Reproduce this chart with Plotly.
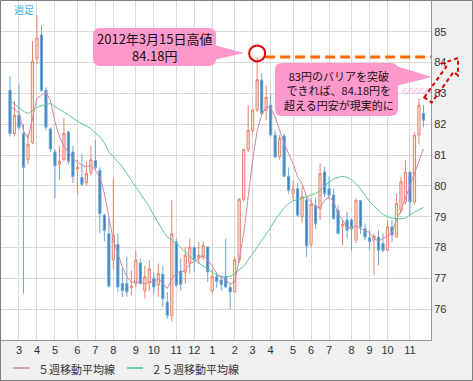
import plotly.graph_objects as go
import pandas as pd

# ---------------- data (USD/JPY weekly) ----------------
start_week = "2011-02-21"
opens = [83.10, 81.70, 82.30, 81.70, 80.85, 81.40, 84.15, 84.90, 83.10, 81.85,
         81.10, 80.70, 80.85, 81.75, 81.10, 80.55, 80.27, 80.10, 80.42, 80.82,
         80.50, 79.05, 78.45, 77.60, 78.10, 76.83, 76.83, 76.70, 76.83, 77.50,
         76.60, 76.85, 77.00, 76.78, 77.13, 76.23, 75.80, 78.18, 77.24, 77.20,
         77.50, 78.00, 77.65, 77.70, 78.02, 76.60, 77.05, 76.95, 77.05, 76.70,
         76.56, 77.60, 79.57, 81.18, 81.80, 82.46, 83.43, 82.45, 82.62, 81.65,
         80.94, 81.62, 80.31, 79.75, 79.91, 79.00, 79.55, 78.10, 79.37, 79.26,
         80.45, 79.91, 79.70, 79.21, 78.70, 78.89, 78.90, 78.24, 79.53, 78.61,
         78.32, 78.24, 78.34, 78.13, 77.91, 78.67, 78.34, 79.20, 79.48, 80.45,
         79.48, 81.65, 82.35]
highs = [83.55, 82.75, 83.30, 82.00, 81.70, 84.70, 85.55, 85.20, 83.20, 81.90,
         81.20, 81.30, 82.20, 81.80, 81.30, 80.85, 81.05, 80.80, 81.30, 81.50,
         80.60, 79.10, 78.95, 80.24, 78.45, 77.32, 77.70, 77.26, 77.90, 77.64,
         77.40, 77.60, 77.20, 77.48, 77.42, 76.55, 79.54, 78.29, 77.65, 78.02,
         78.29, 78.07, 78.18, 78.20, 78.05, 77.30, 77.20, 77.10, 78.29, 76.83,
         77.70, 79.60, 81.20, 82.62, 82.50, 84.18, 83.65, 83.27, 83.00, 81.80,
         81.65, 81.70, 80.60, 80.18, 80.10, 80.00, 79.65, 79.60, 79.60, 80.73,
         80.62, 80.30, 79.90, 79.37, 78.89, 79.15, 78.95, 79.60, 79.53, 78.78,
         78.56, 78.45, 78.56, 78.45, 78.89, 78.89, 79.75, 80.30, 80.83, 80.45,
         81.75, 82.84, 82.63]
lows = [81.60, 81.60, 81.80, 76.50, 80.70, 81.35, 83.95, 83.05, 81.80, 81.10,
        79.60, 80.20, 80.80, 80.70, 80.10, 79.70, 80.00, 80.00, 80.35, 80.54,
        78.46, 78.20, 76.70, 77.30, 76.56, 76.40, 76.40, 76.45, 76.72, 76.80,
        76.35, 76.60, 76.50, 76.40, 76.07, 75.69, 75.60, 76.72, 76.60, 76.83,
        77.15, 77.20, 77.48, 77.60, 76.88, 76.50, 76.70, 76.60, 76.70, 76.00,
        76.56, 77.50, 79.50, 81.10, 81.75, 82.40, 82.30, 82.13, 81.60, 80.90,
        80.85, 80.30, 79.75, 79.53, 79.00, 78.80, 77.70, 78.00, 78.60, 78.89,
        79.64, 79.55, 78.90, 78.45, 78.07, 78.30, 77.90, 78.13, 78.45, 78.24,
        77.91, 77.10, 77.42, 77.85, 77.91, 78.18, 78.34, 79.10, 79.40, 79.05,
        79.40, 81.37, 81.90]
closes = [81.70, 82.30, 81.90, 80.60, 81.35, 84.05, 84.80, 83.10, 81.90, 81.20,
          80.65, 80.80, 81.70, 80.80, 80.30, 80.60, 80.05, 80.40, 80.85, 80.60,
          79.10, 78.55, 76.75, 78.40, 76.72, 76.61, 76.56, 76.75, 77.60, 76.83,
          77.05, 77.30, 76.72, 77.15, 76.34, 75.80, 78.45, 76.77, 76.80, 77.75,
          78.02, 77.60, 77.75, 78.07, 77.21, 77.07, 76.90, 76.80, 76.72, 76.56,
          77.60, 79.57, 81.18, 81.80, 82.46, 83.45, 82.35, 82.87, 81.65, 80.94,
          81.54, 80.31, 79.86, 79.90, 79.05, 79.65, 78.05, 79.40, 78.78, 80.40,
          79.75, 79.70, 78.94, 78.45, 78.75, 78.56, 78.60, 79.53, 78.67, 78.34,
          78.20, 78.37, 77.91, 77.91, 78.67, 78.40, 79.43, 80.13, 80.45, 79.48,
          81.65, 82.62, 82.13]
ma5 = [82.56, 82.50, 82.35, 81.80, 81.54, 82.24, 82.84, 82.94, 83.05, 82.78,
       82.08, 81.60, 81.27, 81.10, 80.89, 80.78, 80.67, 80.62, 80.67, 80.50,
       80.29, 79.75, 78.95, 78.24, 77.80, 77.37, 77.05, 76.88, 76.88, 76.88,
       76.83, 76.88, 76.88, 76.99, 76.83, 76.67, 76.99, 77.15, 77.20, 77.26,
       77.48, 77.53, 77.64, 77.75, 77.59, 77.40, 77.15, 77.05, 76.94, 76.83,
       76.88, 77.59, 78.45, 79.64, 80.83, 81.80, 82.29, 82.56, 82.54, 82.24,
       81.80, 81.37, 81.05, 80.72, 80.29, 80.08, 79.64, 79.48, 79.32, 79.30,
       79.53, 79.64, 79.50, 79.10, 78.89, 78.63, 78.67, 78.70, 78.62, 78.56,
       78.48, 78.30, 78.20, 78.30, 78.37, 78.50, 78.90, 79.20, 79.60, 80.00,
       80.40, 80.85, 81.20]
ma25 = [82.78, 82.66, 82.54, 82.42, 82.35, 82.45, 82.54, 82.60, 82.65, 82.67,
        82.56, 82.48, 82.40, 82.30, 82.19, 82.10, 82.02, 81.94, 81.86, 81.72,
        81.59, 81.40, 81.10, 80.95, 80.80, 80.62, 80.40, 80.18, 79.97, 79.75,
        79.53, 79.32, 79.05, 78.78, 78.55, 78.34, 78.25, 78.15, 78.00, 77.85,
        77.72, 77.60, 77.50, 77.40, 77.30, 77.18, 77.10, 77.05, 77.05, 77.07,
        77.15, 77.26, 77.40, 77.59, 77.80, 78.02, 78.25, 78.45, 78.65, 78.90,
        79.10, 79.30, 79.42, 79.52, 79.55, 79.60, 79.64, 79.70, 79.75, 79.85,
        80.00, 80.13, 80.22, 80.28, 80.31, 80.28, 80.20, 80.08, 79.90, 79.70,
        79.50, 79.35, 79.20, 79.07, 79.00, 78.95, 78.94, 78.93, 78.95, 79.05,
        79.15, 79.22, 79.30]
month_ticks = ["2011-03-07", "2011-04-04", "2011-05-02", "2011-06-06", "2011-07-04",
               "2011-08-01", "2011-09-05", "2011-10-03", "2011-11-07", "2011-12-05",
               "2012-01-02", "2012-02-06", "2012-03-05", "2012-04-02", "2012-05-07",
               "2012-06-04", "2012-07-02", "2012-08-06", "2012-09-03", "2012-10-01",
               "2012-11-05"]
month_labels = ["3", "4", "5", "6", "7", "8", "9", "10", "11", "12", "1", "2",
                "3", "4", "5", "6", "7", "8", "9", "10", "11"]
price_ticks = [76, 77, 78, 79, 80, 81, 82, 83, 84, 85]
high_week = "2012-03-12"
high_value = 84.18
barrier = 83.0

dates = pd.date_range(start_week, periods=len(closes), freq="7D")

# ---------------- geometry helpers ----------------
W, H = 473, 381
PL, PR, PT, PB = 1, 431, 1, 340          # plot area in pixels
t0 = pd.Timestamp(start_week)
X_PX0, X_PXW = 10.0, 4.494               # pixel of first week, pixels per week
x_lo = t0 + pd.Timedelta(days=7 * (PL - X_PX0) / X_PXW)
x_hi = t0 + pd.Timedelta(days=7 * (PR - X_PX0) / X_PXW)
Y_LO, Y_HI = 75.0, 86.0


def pxx(x):
    return (x - PL) / (PR - PL)


def pxy(y):
    return (PB - y) / (PB - PT)


def xdate(x):
    return t0 + pd.Timedelta(days=7 * (x - X_PX0) / X_PXW)


def path_from_px(points, close=True):
    s = "M" + " L".join(f"{pxx(x):.5f},{pxy(y):.5f}" for x, y in points)
    return s + (" Z" if close else "")


def rounded_rect(x0, y0, x1, y1, r):
    pts = lambda x, y: f"{pxx(x):.5f},{pxy(y):.5f}"
    return (f"M{pts(x0 + r, y0)} L{pts(x1 - r, y0)} Q{pts(x1, y0)} {pts(x1, y0 + r)} "
            f"L{pts(x1, y1 - r)} Q{pts(x1, y1)} {pts(x1 - r, y1)} "
            f"L{pts(x0 + r, y1)} Q{pts(x0, y1)} {pts(x0, y1 - r)} "
            f"L{pts(x0, y0 + r)} Q{pts(x0, y0)} {pts(x0 + r, y0)} Z")


PINK = "#ff99cc"
JP = "Noto Sans CJK JP"

fig = go.Figure()

fig.add_trace(go.Candlestick(
    x=dates, open=opens, high=highs, low=lows, close=closes,
    increasing=dict(line=dict(color="#e8836a", width=1), fillcolor="#fce4dc"),
    decreasing=dict(line=dict(color="#6aa6d6", width=1), fillcolor="#3a80c0"),
    whiskerwidth=0, showlegend=False, hoverinfo="skip"))

fig.add_trace(go.Scatter(x=dates, y=ma25, mode="lines",
                         line=dict(color="#58c993", width=1), showlegend=False,
                         hoverinfo="skip"))
fig.add_trace(go.Scatter(x=dates, y=ma5, mode="lines",
                         line=dict(color="#cf88a8", width=1), showlegend=False,
                         hoverinfo="skip"))

# hatched band just above the 83 yen barrier
band_x0 = xdate(402)
fig.add_trace(go.Scatter(
    x=[band_x0, x_hi, x_hi, band_x0, band_x0],
    y=[barrier, barrier, barrier + 0.18, barrier + 0.18, barrier],
    mode="lines", fill="toself", line=dict(width=0, color="rgba(0,0,0,0)"),
    fillcolor="rgba(255,255,255,0)",
    fillpattern=dict(shape="/", fgcolor="#ff8fcf", bgcolor="rgba(255,255,255,0)",
                     size=4, solidity=0.45),
    showlegend=False, hoverinfo="skip"))

shapes = []
# dashed line at the March 15 high
hw = pd.Timestamp(high_week)
rx = pd.Timedelta(days=7 * 8 / X_PXW)
shapes.append(dict(type="line", xref="x", yref="y", x0=hw + rx, x1=x_hi,
                   y0=high_value, y1=high_value,
                   line=dict(color="#ff6a00", width=3, dash="10px,5px")))
# circle marking the high
ry = 8 / ((PB - PT) / (Y_HI - Y_LO))
yc = high_value + 0.12
shapes.append(dict(type="circle", xref="x", yref="y", x0=hw - rx, x1=hw + rx,
                   y0=yc - ry, y1=yc + ry, line=dict(color="#e00000", width=2)))
# callout 1
shapes.append(dict(type="path", xref="paper", yref="paper",
                   path=rounded_rect(93, 28, 216, 66, 7), fillcolor=PINK, line=dict(width=0)))
shapes.append(dict(type="path", xref="paper", yref="paper",
                   path=path_from_px([(214, 45), (244, 53), (214, 60)]),
                   fillcolor=PINK, line=dict(width=0)))
# callout 2
shapes.append(dict(type="path", xref="paper", yref="paper",
                   path=rounded_rect(275, 63, 398, 116, 7), fillcolor=PINK, line=dict(width=0)))
shapes.append(dict(type="path", xref="paper", yref="paper",
                   path=path_from_px([(396, 66), (432, 77), (396, 86)]),
                   fillcolor=PINK, line=dict(width=0)))
# dashed red arrow (outside the plot)
arrow = [(424.3, 97.4), (446.2, 66.8), (441.8, 63.6), (458.0, 58.0),
         (458.0, 75.2), (453.6, 72.0), (431.7, 102.6)]
shapes.append(dict(type="path", xref="paper", yref="paper", path=path_from_px(arrow),
                   line=dict(color="#e00000", width=2, dash="4px,3px")))
# legend samples
shapes.append(dict(type="line", xref="paper", yref="paper", x0=pxx(13), x1=pxx(30),
                   y0=pxy(368), y1=pxy(368), line=dict(color="#d9a2b8", width=2)))
shapes.append(dict(type="line", xref="paper", yref="paper", x0=pxx(127), x1=pxx(143),
                   y0=pxy(368), y1=pxy(368), line=dict(color="#6ed3a4", width=2)))
# outer frame
shapes.append(dict(type="rect", xref="paper", yref="paper", x0=pxx(0.5), x1=pxx(472.5),
                   y0=pxy(0.5), y1=pxy(380.5), line=dict(color="#7f7f7f", width=1)))

annotations = [
    dict(xref="paper", yref="paper", x=pxx(155), y=pxy(47), xanchor="center", yanchor="middle",
         text="2012年3月15日高値<br>84.18円",
         showarrow=False, align="center", font=dict(family=JP, size=13, color="#111")),
    dict(xref="paper", yref="paper", x=pxx(339), y=pxy(90), xanchor="center", yanchor="middle",
         text="83円のバリアを突破<br>できれば、84.18円を<br>超える円安が現実的に",
         showarrow=False, align="center", font=dict(family=JP, size=11, color="#111")),
    dict(xref="paper", yref="paper", x=pxx(12), y=pxy(9), xanchor="left", yanchor="middle",
         text="週足", showarrow=False, font=dict(family=JP, size=10, color="#3fb4ee")),
    dict(xref="paper", yref="paper", x=pxx(36), y=pxy(369), xanchor="left", yanchor="middle",
         text="５週移動平均線", showarrow=False, font=dict(family=JP, size=11, color="#333")),
    dict(xref="paper", yref="paper", x=pxx(149), y=pxy(369), xanchor="left", yanchor="middle",
         text="２５週移動平均線", showarrow=False, font=dict(family=JP, size=11, color="#333")),
]

fig.update_layout(
    width=W, height=H,
    margin=dict(l=PL, r=W - PR, t=PT, b=H - PB, pad=0),
    paper_bgcolor="#f0f0f0", plot_bgcolor="#ffffff",
    showlegend=False, hovermode=False,
    shapes=shapes, annotations=annotations,
    xaxis=dict(type="date", range=[x_lo, x_hi], tickmode="array", tickvals=month_ticks,
               ticktext=month_labels, showgrid=True, gridcolor="#dadada", gridwidth=1,
               showline=True, linecolor="#999999", linewidth=1, ticks="", zeroline=False,
               rangeslider=dict(visible=False), fixedrange=True,
               tickfont=dict(family="Liberation Sans", size=11, color="#333")),
    yaxis=dict(range=[Y_LO, Y_HI], side="right", tickmode="array", tickvals=price_ticks,
               showgrid=True, gridcolor="#dadada", gridwidth=1, showline=True,
               linecolor="#999999", linewidth=1, ticks="", zeroline=False, fixedrange=True,
               tickfont=dict(family="Liberation Sans", size=11, color="#333")),
)

fig.write_html("out.html", config={"displayModeBar": False, "staticPlot": True},
               post_script="document.body.style.margin='0px';")
